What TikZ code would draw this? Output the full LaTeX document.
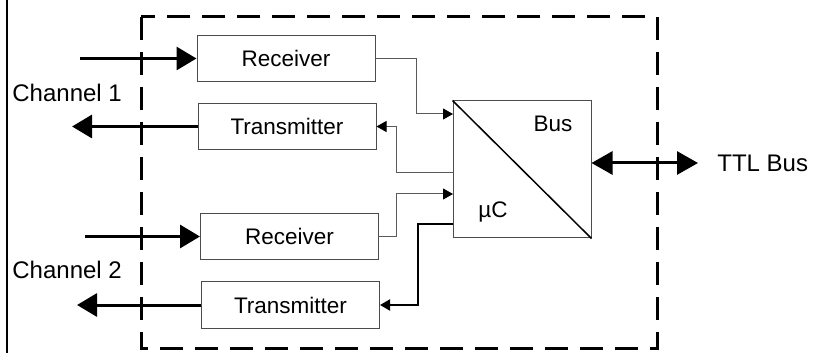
\documentclass[tikz,border=0pt]{standalone}
\usepackage{fontspec}
\setmainfont{Liberation Sans}
\usepackage{tikz}
\usetikzlibrary{arrows.meta}
\tikzset{
  unit/.style={draw=black!70, line width=0.5pt, minimum width=89pt, minimum height=23pt,
    inner sep=0pt, font=\fontsize{11.25}{13}\selectfont},
  fat/.style={line width=1.5pt, -{Triangle[length=10pt,width=11.5pt]}},
  fatboth/.style={line width=1.5pt, {Triangle[length=10.5pt,width=11.5pt]}-{Triangle[length=10.5pt,width=11.5pt]}},
  sig/.style={draw=black!65, line width=0.5pt, -{Triangle[length=5pt,width=5.5pt,color=black]}},
  lbl/.style={anchor=west, inner sep=0pt, font=\fontsize{12}{14}\selectfont}
}

\begin{document}
\begin{tikzpicture}[x=0.5pt,y=-0.5pt]
\useasboundingbox (0,0) rectangle (815,353);
\draw[line width=1pt] (7,0) -- (7,353);
\draw[line width=1.5pt, dash pattern=on 11.5pt off 6pt] (141,17) rectangle (657,348);

% line units
\node[unit] (rx1) at (286,58.5) {Receiver};
\node[unit] (tx1) at (287,126.5) {Transmitter};
\node[unit] (rx2) at (289.5,236.5) {Receiver};
\node[unit] (tx2) at (290.5,305) {Transmitter};

% controller
\node[draw=black!70, line width=0.5pt, minimum width=69pt, minimum height=68.5pt] (uc) at (522,169.5) {};
\draw[line width=0.75pt] (uc.north west) -- (uc.south east);
\node[inner sep=0pt, font=\fontsize{11.25}{13}\selectfont] (bus) at (553,124) {Bus};
\node[inner sep=0pt, font=\fontsize{11.25}{13}\selectfont] (mc) at (493,212) {µC};

\coordinate (uc-in1) at (453,114);
\coordinate (uc-out1) at (453,173);
\coordinate (uc-in2) at (453,194);
\coordinate (uc-out2) at (453,224);
\draw[sig] (rx1.east) -- ++(41,0) |- (uc-in1);
\draw[sig] (uc-out1) -- ++(-57,0) |- (tx1.east);
\draw[sig] (rx2.east) -- ++(17,0) |- (uc-in2);
\draw[sig, draw=black, line width=1pt] (uc-out2) -- ++(-35,0) |- (tx2.east);

% channels
\coordinate (in1) at (80,58.5);
\coordinate (out1) at (72,126.5);
\coordinate (in2) at (85,236.5);
\coordinate (out2) at (77,305);
\draw[fat] (in1) -- (rx1.west);
\draw[fat] (tx1.west) -- (out1);
\draw[fat] (in2) -- (rx2.west);
\draw[fat] (tx2.west) -- (out2);
\node[lbl] (ch1) at (12,93) {Channel 1};
\node[lbl] (ch2) at (12,270) {Channel 2};

% bus side
\node[lbl] (ttl) at (717,163) {TTL Bus};
\coordinate (bus-end) at (698,163);
\draw[fatboth] (uc.east |- bus-end) -- (bus-end);
\end{tikzpicture}
\end{document}
